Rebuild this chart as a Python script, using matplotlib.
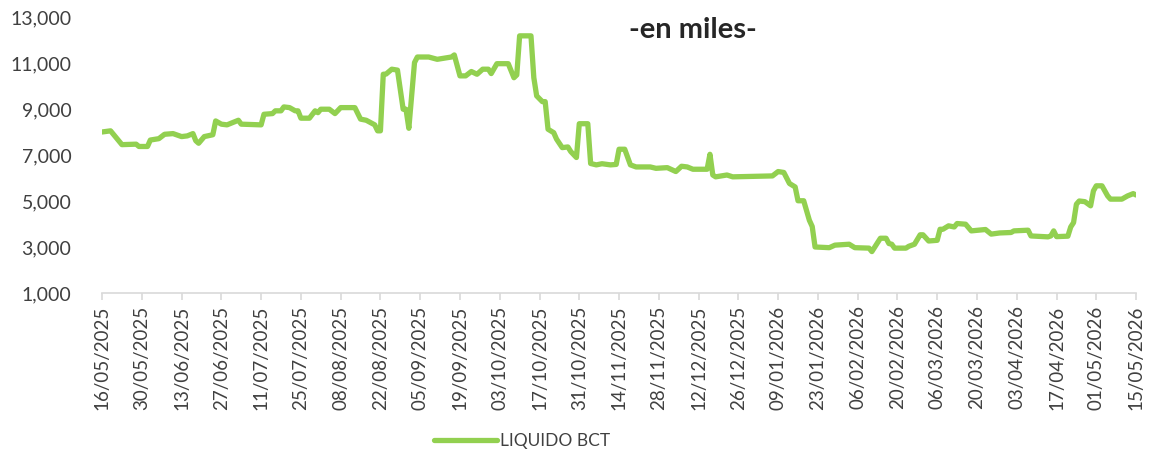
import matplotlib
matplotlib.use("Agg")
import matplotlib.pyplot as plt
import matplotlib.dates as mdates
import matplotlib.ticker as mticker
import pandas as pd

# ---- data ----
dates = [
    "16/05/2025", "19/05/2025", "23/05/2025", "28/05/2025", "29/05/2025", "01/06/2025",
    "02/06/2025", "05/06/2025", "07/06/2025", "10/06/2025", "13/06/2025", "15/06/2025",
    "17/06/2025", "18/06/2025", "19/06/2025", "21/06/2025", "24/06/2025", "25/06/2025",
    "27/06/2025", "29/06/2025", "03/07/2025", "04/07/2025", "11/07/2025", "12/07/2025",
    "15/07/2025", "16/07/2025", "18/07/2025", "19/07/2025", "21/07/2025", "23/07/2025",
    "24/07/2025", "25/07/2025", "28/07/2025", "30/07/2025", "31/07/2025", "01/08/2025",
    "04/08/2025", "06/08/2025", "08/08/2025", "13/08/2025", "15/08/2025", "17/08/2025",
    "20/08/2025", "21/08/2025", "22/08/2025", "23/08/2025", "24/08/2025", "26/08/2025",
    "28/08/2025", "30/08/2025", "31/08/2025", "01/09/2025", "03/09/2025", "04/09/2025",
    "08/09/2025", "11/09/2025", "16/09/2025", "17/09/2025", "19/09/2025", "21/09/2025",
    "23/09/2025", "25/09/2025", "27/09/2025", "29/09/2025", "30/09/2025", "02/10/2025",
    "06/10/2025", "08/10/2025", "09/10/2025", "10/10/2025", "14/10/2025", "15/10/2025",
    "16/10/2025", "18/10/2025", "19/10/2025", "20/10/2025", "22/10/2025", "23/10/2025",
    "25/10/2025", "27/10/2025", "28/10/2025", "30/10/2025", "31/10/2025", "03/11/2025",
    "04/11/2025", "06/11/2025", "08/11/2025", "11/11/2025", "13/11/2025", "14/11/2025",
    "16/11/2025", "18/11/2025", "20/11/2025", "25/11/2025", "27/11/2025", "01/12/2025",
    "04/12/2025", "06/12/2025", "08/12/2025", "10/12/2025", "15/12/2025", "16/12/2025",
    "17/12/2025", "18/12/2025", "22/12/2025", "24/12/2025", "07/01/2026", "09/01/2026",
    "11/01/2026", "13/01/2026", "15/01/2026", "16/01/2026", "18/01/2026", "20/01/2026",
    "21/01/2026", "22/01/2026", "27/01/2026", "29/01/2026", "03/02/2026", "05/02/2026",
    "10/02/2026", "11/02/2026", "14/02/2026", "16/02/2026", "17/02/2026", "18/02/2026",
    "19/02/2026", "23/02/2026", "24/02/2026", "26/02/2026", "28/02/2026", "01/03/2026",
    "03/03/2026", "06/03/2026", "07/03/2026", "08/03/2026", "10/03/2026", "12/03/2026",
    "13/03/2026", "16/03/2026", "18/03/2026", "23/03/2026", "25/03/2026", "28/03/2026",
    "01/04/2026", "02/04/2026", "07/04/2026", "08/04/2026", "14/04/2026", "15/04/2026",
    "16/04/2026", "17/04/2026", "21/04/2026", "22/04/2026", "23/04/2026", "24/04/2026",
    "25/04/2026", "27/04/2026", "29/04/2026", "30/04/2026", "01/05/2026", "03/05/2026",
    "05/05/2026", "06/05/2026", "10/05/2026", "12/05/2026", "14/05/2026", "15/05/2026",
]
liquido_bct = [
    8000, 8050, 7450, 7470, 7370, 7370,
    7650, 7710, 7900, 7930, 7800, 7830,
    7930, 7620, 7510, 7800, 7880, 8480,
    8340, 8310, 8510, 8340, 8310, 8770,
    8800, 8920, 8920, 9090, 9060, 8920,
    8920, 8600, 8600, 8920, 8840, 8990,
    8990, 8800, 9060, 9060, 8560, 8510,
    8310, 8050, 8050, 10510, 10520, 10730,
    10690, 8990, 8990, 8160, 11020, 11260,
    11260, 11160, 11260, 11350, 10440, 10440,
    10630, 10510, 10730, 10730, 10540, 10970,
    10970, 10360, 10480, 12180, 12180, 10360,
    9570, 9320, 9320, 8120, 7970, 7690,
    7320, 7350, 7150, 6890, 8360, 8360,
    6630, 6570, 6620, 6570, 6590, 7250,
    7250, 6570, 6480, 6480, 6420, 6450,
    6280, 6510, 6480, 6380, 6380, 7030,
    6130, 6050, 6130, 6050, 6090, 6280,
    6240, 5760, 5610, 5010, 5010, 4160,
    3890, 3000, 2970, 3080, 3120, 2970,
    2950, 2800, 3380, 3380, 3150, 3120,
    2950, 2950, 3030, 3120, 3530, 3530,
    3260, 3290, 3770, 3770, 3920, 3870,
    4020, 3990, 3700, 3760, 3560, 3610,
    3630, 3700, 3730, 3480, 3440, 3480,
    3700, 3450, 3470, 3870, 4060, 4860,
    5000, 4970, 4790, 5440, 5660, 5660,
    5220, 5080, 5080, 5220, 5320, 5260,
]
series_name = "LIQUIDO BCT"
title_text = "-en miles-"
y_ticks = [1000, 3000, 5000, 7000, 9000, 11000, 13000]
x_start, x_end = "16/05/2025", "15/05/2026"

# ---- plot ----
plt.rcParams["font.family"] = ["Lato", "DejaVu Sans"]
x = pd.to_datetime(dates, format="%d/%m/%Y")
x0 = pd.to_datetime(x_start, format="%d/%m/%Y")
x1 = pd.to_datetime(x_end, format="%d/%m/%Y")

fig = plt.figure(figsize=(11.53, 4.58), dpi=100)
ax = fig.add_axes([0.0885, 0.3603, 0.8968, 0.6026])
ax.plot(x, liquido_bct, color="#92D050", linewidth=3.8, solid_joinstyle="round",
        solid_capstyle="round", label=series_name)

ax.set_xlim(x0, x1)
ax.set_ylim(y_ticks[0], y_ticks[-1])
ax.set_yticks(y_ticks)
ax.yaxis.set_major_formatter(mticker.FuncFormatter(lambda v, p: f"{int(v):,}"))
tick_dates = pd.date_range(x0, x1, freq="14D")
ax.set_xticks(tick_dates)
ax.xaxis.set_major_formatter(mdates.DateFormatter("%d/%m/%Y"))

for s in ["left", "right", "top"]:
    ax.spines[s].set_visible(False)
ax.spines["bottom"].set_color("#d9d9d9")
ax.spines["bottom"].set_linewidth(1.2)
ax.tick_params(axis="y", length=0, labelsize=14, labelcolor="#404040", pad=22)
ax.tick_params(axis="x", direction="out", length=5, color="#d9d9d9", width=1.2,
               labelsize=13.5, labelcolor="#404040", labelrotation=90, pad=4)

fig.text(0.601, 0.934, title_text, ha="center", va="center", fontsize=21,
         fontweight="bold", color="#262626")

leg = fig.legend(loc="center", bbox_to_anchor=(0.453, 0.037), frameon=False,
                 fontsize=12.5, handlelength=3.6, handletextpad=0.2)
for t in leg.get_texts():
    t.set_color("#404040")

fig.savefig("out.png", dpi=100)
